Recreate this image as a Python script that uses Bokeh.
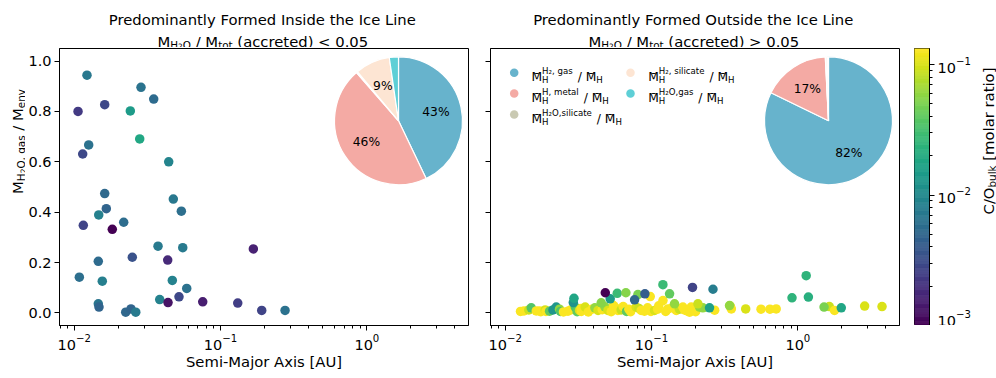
import numpy as np
from bokeh.plotting import figure
from bokeh.layouts import row, column
from bokeh.models import (ColumnDataSource, Label, FixedTicker, PrintfTickFormatter, Range1d,
                          CustomJSTickFormatter)
from bokeh.palettes import Viridis256
from bokeh.transform import log_cmap
from bokeh.core.properties import value
from bokeh.embed import file_html
from bokeh.resources import INLINE

# ---------------- data ----------------
title_left = "Predominantly Formed Inside the Ice Line"
title_right = "Predominantly Formed Outside the Ice Line"
xlabel = "Semi-Major Axis [AU]"
threshold = "0.05"

# inside the ice line: semi-major axis [AU], M_H2O,gas/M_env, C/O bulk
in_a = [0.01223, 0.02861, 0.03494, 0.01616, 0.01062, 0.02418, 0.01256, 0.01143, 0.02803, 0.04424,
        0.01616, 0.04757, 0.01657, 0.01471, 0.05398, 0.01154, 0.02179, 0.01821, 0.03739, 0.05517,
        0.1676, 0.01461, 0.02495, 0.04355, 0.01084, 0.01556, 0.04682, 0.05875, 0.03840, 0.05201,
        0.04376, 0.07556, 0.1311, 0.01461, 0.01477, 0.02249, 0.02444, 0.02634, 0.1912, 0.2760]
in_y = [0.944, 0.896, 0.849, 0.827, 0.800, 0.802, 0.667, 0.631, 0.691, 0.600,
        0.474, 0.452, 0.414, 0.389, 0.404, 0.348, 0.360, 0.332, 0.265, 0.259,
        0.254, 0.205, 0.221, 0.210, 0.142, 0.126, 0.129, 0.097, 0.053, 0.064,
        0.041, 0.044, 0.039, 0.036, 0.023, 0.003, 0.016, 0.003, 0.010, 0.010]
in_co = [0.0071, 0.0064, 0.0055, 0.0029, 0.0023, 0.0147, 0.0063, 0.0029, 0.0188, 0.0090,
         0.0053, 0.0071, 0.0048, 0.0085, 0.0060, 0.0027, 0.0057, 0.0010, 0.0075, 0.0075,
         0.0016, 0.0055, 0.0034, 0.0018, 0.0060, 0.0083, 0.0087, 0.0063, 0.0088, 0.0029,
         0.0013, 0.0015, 0.0025, 0.0067, 0.0048, 0.0052, 0.0048, 0.0075, 0.0027, 0.0063]

# outside the ice line
out_a = [0.01272, 0.01343, 0.0145, 0.01506, 0.0163, 0.01716, 0.0175, 0.01876, 0.019, 0.0201,
         0.0212, 0.02233, 0.0235, 0.02388, 0.025, 0.02683, 0.028, 0.0301, 0.031, 0.0322,
         0.0331, 0.033, 0.0352, 0.037, 0.0392, 0.041, 0.0431, 0.046, 0.048, 0.0504,
         0.053, 0.055, 0.057, 0.0589, 0.062, 0.064, 0.0675, 0.070, 0.072, 0.0785,
         0.082, 0.085, 0.0895, 0.094, 0.099, 0.1048, 0.110, 0.112, 0.125, 0.1294,
         0.138, 0.1476, 0.155, 0.1637, 0.168, 0.175, 0.182, 0.1866, 0.195, 0.200,
         0.213, 0.224, 0.27, 0.345, 0.351, 0.44, 0.56, 0.644, 0.711, 1.64,
         1.78, 2.86, 3.76, 0.0453, 0.1197, 0.1436, 0.2075, 0.249, 0.341, 1.51,
         1.98, 0.912, 1.18, 1.14, 0.02919, 0.02951, 0.0522, 0.0583, 0.0668, 0.0807,
         0.098, 0.0766, 0.0901, 0.1196, 0.1328, 0.263, 0.1905, 0.0483]
out_y = [0.006, 0.008, 0.012, 0.020, 0.008, 0.008, 0.005, 0.012, 0.006, 0.007,
         0.012, 0.023, 0.015, 0.006, 0.004, 0.007, 0.012, 0.023, 0.005, 0.010,
         0.006, 0.018, 0.023, 0.004, 0.015, 0.020, 0.010, 0.013, 0.024, 0.010,
         0.005, 0.029, 0.019, 0.010, 0.012, 0.025, 0.006, 0.015, 0.005, 0.023,
         0.018, 0.010, 0.007, 0.020, 0.006, 0.010, 0.015, 0.028, 0.006, 0.016,
         0.020, 0.010, 0.015, 0.023, 0.012, 0.008, 0.003, 0.023, 0.016, 0.005,
         0.023, 0.020, 0.011, 0.027, 0.016, 0.016, 0.015, 0.015, 0.016, 0.025,
         0.010, 0.027, 0.025, 0.040, 0.049, 0.036, 0.036, 0.020, 0.029, 0.023,
         0.020, 0.060, 0.063, 0.148, 0.041, 0.058, 0.056, 0.078, 0.080, 0.073,
         0.065, 0.052, 0.076, 0.112, 0.076, 0.094, 0.101, 0.080]
out_co = [0.13, 0.13, 0.09, 0.035, 0.13, 0.13, 0.13, 0.10, 0.13, 0.04,
          0.013, 0.013, 0.06, 0.035, 0.13, 0.13, 0.13, 0.035, 0.04, 0.10,
          0.13, 0.13, 0.10, 0.13, 0.13, 0.06, 0.10, 0.13, 0.06, 0.10,
          0.13, 0.13, 0.13, 0.13, 0.09, 0.13, 0.04, 0.13, 0.13, 0.10,
          0.09, 0.13, 0.13, 0.13, 0.13, 0.10, 0.13, 0.13, 0.13, 0.13,
          0.13, 0.13, 0.09, 0.13, 0.13, 0.13, 0.13, 0.13, 0.13, 0.13,
          0.06, 0.06, 0.13, 0.09, 0.13, 0.10, 0.13, 0.13, 0.13, 0.09,
          0.13, 0.10, 0.10, 0.055, 0.13, 0.06, 0.09, 0.016, 0.06, 0.05,
          0.018, 0.024, 0.022, 0.024, 0.012, 0.018, 0.0147, 0.028, 0.055, 0.050,
          0.13, 0.0052, 0.0043, 0.028, 0.041, 0.0080, 0.0027, 0.0010]

# pie fractions [%], order: H2 gas, H metal, H2O silicate, H2 silicate, H2O gas
pie_sups = ["H\u2082, gas", "H, metal", "H\u2082O,silicate", "H\u2082, silicate", "H\u2082O,gas"]
pie_colors = ["#67b3cc", "#f4aaa4", "#c9c9b2", "#fde5d3", "#5ecfd6"]
pie_inside = [42.9, 45.7, 0.3, 8.8, 2.3]
pie_outside = [82.2, 17.0, 0.1, 0.4, 0.3]

y_ticks = [0.0, 0.2, 0.4, 0.6, 0.8, 1.0]
x_major = [1e-2, 1e-1, 1e0]
cb_major = [1e-3, 1e-2, 1e-1]
CO_LO, CO_HI = 1e-3, 0.1327

# ---------------- layout constants (pixels of the picture) ----------------
FONT = "DejaVu Sans"
S_MAIN, S_SUB, S_SUB2 = 14.8, 10.4, 7.4
S_LEG, S_LEGS = 12.3, 8.6
S_TICK = "14.5px"
XLO, XHI = 10 ** -2.1005, 10 ** 0.6945
YLO, YHI = -0.05, 1.05
FW, FH = 409, 277
TOP_H = 47
F1 = (58.0, 325.0)
F2 = (489.0, 325.0)
F_TOP = (0.0, float(TOP_H))
F_YS = (0.0, 325.0)
F_CS = (970.0, 325.0)
PIE_R = 64

x_minor = [m * 10.0 ** e for e in range(-3, 1) for m in range(2, 10)]
cb_minor = [m * 10.0 ** e for e in range(-3, -1) for m in range(2, 10)]

ADV = {' ': .318, '!': .400, '%': .950, '(': .390, ')': .390, ',': .318, '-': .361, '.': .318,
       '/': .337, ':': .337, '<': .838, '>': .838, '[': .390, ']': .390, '\u2082': .401,
       '\u00af': .500,
       'A': .684, 'B': .686, 'C': .698, 'D': .770, 'E': .632, 'F': .575, 'G': .775, 'H': .752,
       'I': .295, 'J': .295, 'K': .656, 'L': .557, 'M': .863, 'N': .748, 'O': .787, 'P': .603,
       'Q': .787, 'R': .695, 'S': .635, 'T': .611, 'U': .732, 'V': .684, 'W': .989, 'X': .685,
       'Y': .611, 'Z': .685, 'a': .613, 'b': .635, 'c': .550, 'd': .635, 'e': .615, 'f': .352,
       'g': .635, 'h': .634, 'i': .278, 'j': .278, 'k': .579, 'l': .278, 'm': .974, 'n': .634,
       'o': .612, 'p': .635, 'q': .635, 'r': .411, 's': .521, 't': .392, 'u': .634, 'v': .592,
       'w': .818, 'x': .592, 'y': .592, 'z': .525}
for d in "0123456789":
    ADV[d] = .636


def tw(s, size):
    return sum(ADV.get(c, 0.6) for c in s) * size


def put_label(fig, frame, rx, ry, t, size, angle=0.0, color="black"):
    fl, fb = frame
    fig.add_layout(Label(x=rx - fl, y=fb - ry, x_units="screen", y_units="screen", text=t,
                         angle=angle, text_align="left", text_baseline="alphabetic",
                         text_font=FONT, text_font_size=f"{size}px", text_color=color))


def add_rich(fig, frame, segs, x, y, align="center", angle=0.0, color="black"):
    """segs: (text, size, baseline_shift_up[, advance or None[, overbar]])"""
    full = []
    for s in segs:
        s = list(s)
        while len(s) < 5:
            s.append(None if len(s) == 3 else False)
        full.append(s)
    advs = [s[3] if s[3] is not None else tw(s[0], s[1]) for s in full]
    total = sum(advs)
    pos = -total / 2 if align == "center" else 0.0
    for s, adv in zip(full, advs):
        t, size, dy, _, bar = s
        lead = tw(t[:len(t) - len(t.lstrip(" "))], size)
        core = t.strip(" ")
        p0 = pos + lead
        if angle == 0:
            rx, ry = x + p0, y - dy
        else:
            rx, ry = x - dy, y - p0
        put_label(fig, frame, rx, ry, core, size, angle, color)
        if bar:
            cw = tw(core[-1], size)
            bx = x + p0 + tw(core[:-1], size) + (cw - tw("\u00af", size)) / 2
            put_label(fig, frame, bx, ry + 0.5, "\u00af", size, 0.0, color)
        pos += adv


def to_data(frame, rx, ry):
    fl, fb = frame
    fx = (rx - fl) / FW
    fy = (fb - ry) / FH
    lx0, lx1 = np.log10(XLO), np.log10(XHI)
    return 10 ** (lx0 + fx * (lx1 - lx0)), YLO + fy * (YHI - YLO)


def style_axis(ax):
    ax.axis_line_color = "black"
    ax.axis_line_width = 1
    ax.major_tick_line_color = "black"
    ax.minor_tick_line_color = "black"
    ax.major_tick_out = 5
    ax.major_tick_in = 0
    ax.minor_tick_out = 3
    ax.minor_tick_in = 0
    ax.major_label_text_font = FONT
    ax.major_label_text_font_size = S_TICK
    ax.major_label_text_color = "black"
    ax.major_label_standoff = 3


def strip(width, height):
    s = figure(title=None, width=width, height=height, x_range=Range1d(0, 1), y_range=Range1d(0, 1),
               x_axis_location=None, y_axis_location=None, min_border=0, output_backend="svg",
               toolbar_location=None, outline_line_color=None,
               background_fill_color="white", border_fill_color="white")
    s.grid.visible = False
    return s


def make_panel(border_left, border_right, show_ylabels):
    p = figure(title=None, x_axis_type="log", x_range=Range1d(XLO, XHI), y_range=Range1d(YLO, YHI),
               frame_width=FW, frame_height=FH, min_border_left=border_left,
               min_border_right=border_right, min_border_top=1, min_border_bottom=0,
               output_backend="svg", toolbar_location=None,
               background_fill_color="white", border_fill_color="white")
    p.grid.visible = False
    p.outline_line_color = "black"
    p.outline_line_width = 1
    p.outline_line_alpha = 1
    p.xaxis.ticker = FixedTicker(ticks=x_major, minor_ticks=x_minor)
    p.yaxis.ticker = FixedTicker(ticks=y_ticks, minor_ticks=[])
    p.yaxis.formatter = PrintfTickFormatter(format="%.1f")
    for ax in list(p.xaxis) + list(p.yaxis):
        style_axis(ax)
    p.xaxis.axis_label = xlabel
    p.xaxis.axis_label_text_font = FONT
    p.xaxis.axis_label_text_font_size = f"{S_MAIN}px"
    p.xaxis.axis_label_text_font_style = "normal"
    p.xaxis.axis_label_text_color = "black"
    p.xaxis.axis_label_standoff = 0
    if not show_ylabels:
        p.yaxis.formatter = CustomJSTickFormatter(code="return ''")
        p.yaxis.major_label_standoff = 0
    return p


def draw_pie(p, frame, center_ref, fracs):
    cx, cy = to_data(frame, *center_ref)
    f = np.array(fracs, dtype=float)
    f = f / f.sum()
    cum = np.concatenate([[0.0], np.cumsum(f)])
    start = np.pi / 2 - 2 * np.pi * cum[:-1]
    end = np.pi / 2 - 2 * np.pi * cum[1:]
    n = len(f)
    src = ColumnDataSource(dict(x=[cx] * n, y=[cy] * n, start=start, end=end, color=pie_colors))
    p.wedge(x="x", y="y", radius=PIE_R, radius_units="screen", start_angle="start", end_angle="end",
            direction="clock", fill_color="color", line_color="white", line_width=1.2, source=src)
    mid = (start + end) / 2
    pct = f * 100
    show = pct >= 5
    labels = [f"{v:.0f}%" for v in pct[show]]
    k = len(labels)
    tsrc = ColumnDataSource(dict(x=[cx] * k, y=[cy] * k, text=labels,
                                 xo=0.6 * PIE_R * np.cos(mid[show]),
                                 yo=-0.6 * PIE_R * np.sin(mid[show])))
    p.text(x="x", y="y", text="text", x_offset="xo", y_offset="yo", source=tsrc,
           text_align="center", text_baseline="middle", text_font=value(FONT),
           text_font_size=value("12.3px"), text_color="black")


cmap = log_cmap("co", Viridis256, CO_LO, CO_HI)

# ---------------- left panel ----------------
p1 = make_panel(33, 11, True)
p1.scatter("a", "y", source=ColumnDataSource(dict(a=in_a, y=in_y, co=in_co)), size=9.5,
           fill_color=cmap, line_color=None)
draw_pie(p1, F1, (397.0, 120.3), pie_inside)

# ---------------- right panel ----------------
p2 = make_panel(11, 7, False)
p2.scatter("a", "y", source=ColumnDataSource(dict(a=out_a, y=out_y, co=out_co)), size=9.5,
           fill_color=cmap, line_color=None)
draw_pie(p2, F2, (827.0, 120.3), pie_outside)

# legend
leg_marker_ref = [(512.7, 72.3), (512.7, 93.1), (512.7, 114.0), (629.0, 72.3), (629.0, 93.1)]
leg_text_x = [530.0, 530.0, 530.0, 646.7, 646.7]
lx, ly = zip(*[to_data(F2, rx, ry) for rx, ry in leg_marker_ref])
p2.scatter(x=list(lx), y=list(ly), size=8.5, fill_color=pie_colors, line_color=None)
for (rx, ry), tx, sup in zip(leg_marker_ref, leg_text_x, pie_sups):
    w = max(tw(sup, S_LEGS), tw("H", S_LEGS)) + 1.0
    add_rich(p2, F2, [("M", S_LEG, 0.0, None, True), ("H", S_LEGS, -3.2, 0.0), (sup, S_LEGS, 6.3, w),
                      (" / M", S_LEG, 0.0, None, True), ("H", S_LEGS, -3.2)],
             tx, ry + 4.3, align="left")

# ---------------- colorbar ----------------
p3 = figure(title=None, y_axis_type="log", x_range=Range1d(0, 1), y_range=Range1d(CO_LO, CO_HI),
            frame_width=15, frame_height=FH, min_border_left=8, min_border_right=42,
            min_border_top=1, min_border_bottom=0, x_axis_location=None, y_axis_location="right",
            output_backend="svg", toolbar_location=None,
            background_fill_color="white", border_fill_color="white")
p3.grid.visible = False
edges = np.logspace(np.log10(CO_LO), np.log10(CO_HI), len(Viridis256) + 1)
p3.quad(left=0, right=1, bottom=edges[:-1], top=edges[1:], fill_color=list(Viridis256),
        line_color=list(Viridis256), line_width=0.6)
p3.outline_line_color = "black"
p3.outline_line_width = 1
p3.yaxis.ticker = FixedTicker(ticks=cb_major, minor_ticks=cb_minor)
style_axis(p3.yaxis[0])

# ---------------- text strips ----------------
top = strip(996, TOP_H)


def cond_segs(op):
    return [("M", S_MAIN, 0.0), ("H", S_SUB, -3.0), ("2", S_SUB2, -4.0), ("O", S_SUB, -3.0),
            (" / M", S_MAIN, 0.0), ("tot", S_SUB, -3.0), (f" (accreted) {op} {threshold}", S_MAIN, 0.0)]


cx1 = F1[0] + FW / 2
cx2 = F2[0] + FW / 2
add_rich(top, F_TOP, [(title_left, S_MAIN, 0.0)], cx1, 19.0)
add_rich(top, F_TOP, cond_segs("<"), cx1, 41.0)
add_rich(top, F_TOP, [(title_right, S_MAIN, 0.0)], cx2, 19.0)
add_rich(top, F_TOP, cond_segs(">"), cx2, 41.0)

ys = strip(25, 278)
add_rich(ys, F_YS, [("M", S_MAIN, 0.0), ("H", S_SUB, -3.4), ("2", S_SUB2, -5.2), ("O, gas", S_SUB, -3.4),
                    (" / M", S_MAIN, 0.0), ("env", S_SUB, -3.4)], 17.0, 188.0, angle=np.pi / 2)

cs = strip(26, 278)
add_rich(cs, F_CS, [("C/O", S_MAIN, 0.0), ("bulk", S_SUB, -3.4), (" [molar ratio]", S_MAIN, 0.0)],
         984.8, 187.5, angle=np.pi / 2)

layout = column(top, row(ys, p1, p2, p3, cs))
open("out.html", "w").write(file_html(layout, INLINE, title="chart"))
